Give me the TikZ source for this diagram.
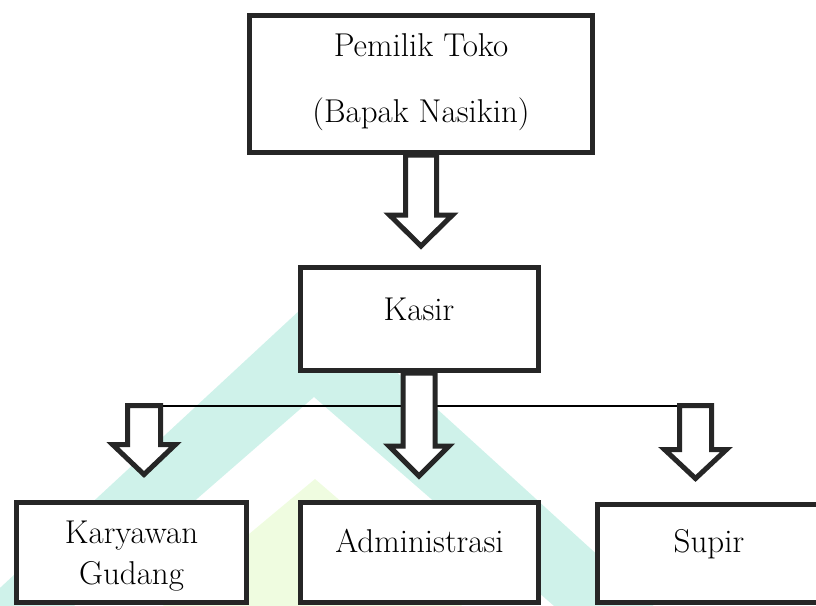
\documentclass[tikz,border=0pt]{standalone}
\usepackage{fontspec}
\usetikzlibrary{calc}
\definecolor{wmteal}{RGB}{207,242,234}
\definecolor{wmlime}{RGB}{239,252,224}
\definecolor{ink}{RGB}{38,38,38}
% #1 start coordinate, #2 offset to head base, #3 offset to tip, #4 shaft half width, #5 head half width
\newcommand\orgarrow[5]{%
  \draw[hollow] ($(#1)+(-#4,0)$) -- ($(#1)+(-#4,#2)$) -- ($(#1)+(-#5,#2)$) -- ($(#1)+(0,#3)$)
    -- ($(#1)+(#5,#2)$) -- ($(#1)+(#4,#2)$) -- ($(#1)+(#4,0)$) -- cycle;}
\begin{document}
\begin{tikzpicture}[x=1pt,y=-1pt,
  orgbox/.style={draw=ink, line width=5pt, fill=white, inner sep=0pt, rectangle},
  lbl/.style={font=\rmfamily\fontsize{33}{40}\selectfont, inner sep=0pt, anchor=base},
  hollow/.style={draw=ink, line width=5pt, fill=white, line join=miter, miter limit=10},
  thinline/.style={draw=black, line width=2pt}]
\useasboundingbox (0,0) rectangle (816,605);
\begin{scope}
\clip (0,0) rectangle (816,605);
% watermark
\fill[wmteal] (314,297) -- (757,700) -- (662,700) -- (314,397) -- (-34,700) -- (-121,700) -- cycle;
\fill[wmlime] (315,479) -- (571,700) -- (50,700) -- cycle;
% boxes
\path (421,84) node[orgbox, minimum width=343pt, minimum height=137pt] (top) {};
\path (419,319) node[orgbox, minimum width=238pt, minimum height=103pt] (kasir) {};
\path (131.5,552.5) node[orgbox, minimum width=230pt, minimum height=100pt] (kary) {};
\path (419.5,552.5) node[orgbox, minimum width=238pt, minimum height=100pt] (admin) {};
\path (709,553.5) node[orgbox, minimum width=223pt, minimum height=98pt] (supir) {};
% connectors
\coordinate (bl) at (144,405.5);
\coordinate (br) at (695.5,405.5);
\draw[thinline] (bl) -- (br);
\orgarrow{top.south}{60}{91}{15.5}{31.5}
\orgarrow{kasir.south}{73}{103}{16}{30}
\orgarrow{bl}{39}{69}{16.5}{31.5}
\orgarrow{br}{44}{73}{16}{31}
% texts
\node[lbl] (t1) at (421,56) {Pemilik Toko};
\node[lbl] (t2) at (421,122) {(Bapak Nasikin)};
\node[lbl] (t3) at (419,320) {Kasir};
\node[lbl] (t4) at (131.5,543) {Karyawan};
\node[lbl] (t5) at (131.5,584) {Gudang};
\node[lbl] (t6) at (419.5,552) {Administrasi};
\node[lbl] (t7) at (709,552) {Supir};
\end{scope}
\end{tikzpicture}
\end{document}
